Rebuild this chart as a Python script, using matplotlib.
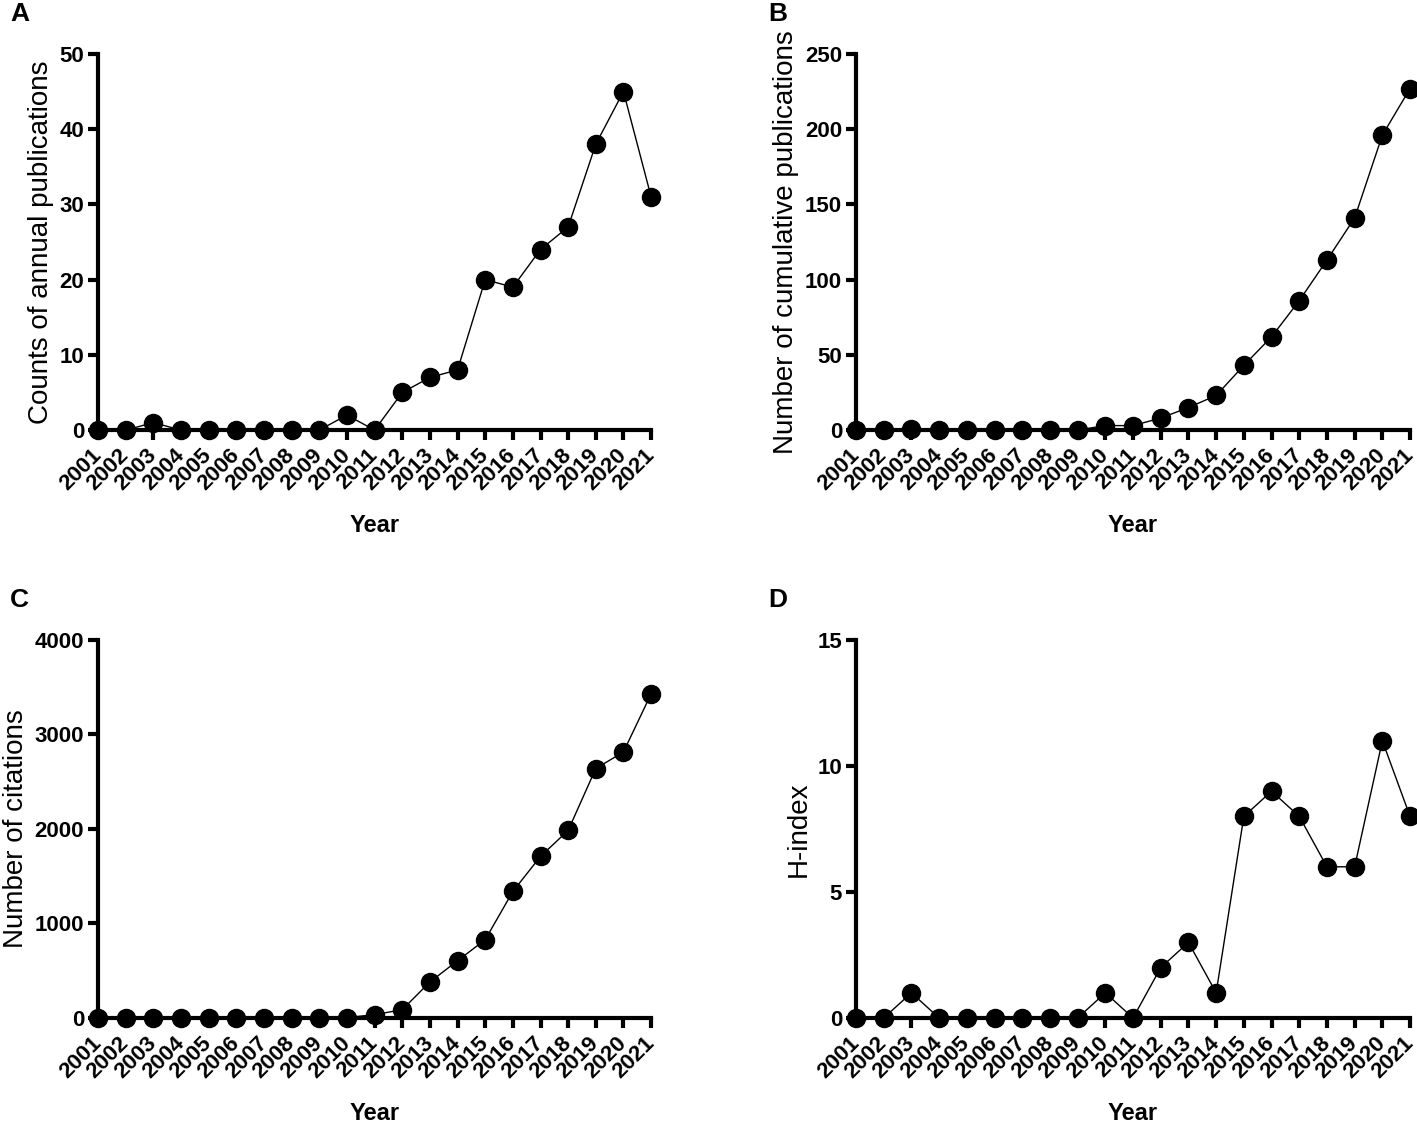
import matplotlib
matplotlib.use("Agg")
import matplotlib.pyplot as plt

plt.rcParams['font.family'] = ['Liberation Sans', 'DejaVu Sans']

years = list(range(2001, 2022))
annual_pubs = [0, 0, 1, 0, 0, 0, 0, 0, 0, 2, 0, 5, 7, 8, 20, 19, 24, 27, 38, 45, 31]
cumulative_pubs = [0, 0, 1, 0, 0, 0, 0, 0, 0, 3, 3, 8, 15, 23, 43, 62, 86, 113, 141, 196, 227]
citations = [0, 0, 0, 0, 0, 0, 0, 0, 0, 5, 35, 88, 381, 606, 828, 1339, 1710, 1985, 2640, 2815, 3430]
h_index = [0, 0, 1, 0, 0, 0, 0, 0, 0, 1, 0, 2, 3, 1, 8, 9, 8, 6, 6, 11, 8]

panels = [
    ('A', annual_pubs, 'Counts of annual publications', 50, 10, [0.0692, 0.617, 0.3903, 0.335]),
    ('B', cumulative_pubs, 'Number of cumulative publications', 250, 50, [0.6041, 0.617, 0.391, 0.335]),
    ('C', citations, 'Number of citations', 4000, 1000, [0.0692, 0.0935, 0.3903, 0.3366]),
    ('D', h_index, 'H-index', 15, 5, [0.6041, 0.0935, 0.391, 0.3366]),
]

fig = plt.figure(figsize=(14.17, 11.23), dpi=100)

for letter, vals, ylabel, ymax, ystep, pos in panels:
    ax = fig.add_axes(pos)
    ax.plot(years, vals, color='black', linewidth=1.0, marker='o', markersize=13,
            markerfacecolor='black', markeredgecolor='black', clip_on=False, zorder=5)
    ax.set_xlim(2001, 2021)
    ax.set_ylim(0, ymax)
    ax.set_yticks(range(0, ymax + 1, ystep))
    ax.set_xticks(years)
    ax.set_xticklabels([str(y) for y in years], rotation=45, ha='right', va='center',
                       rotation_mode='anchor', fontweight='bold', fontsize=16)
    for lab in ax.get_yticklabels():
        lab.set_fontweight('bold')
        lab.set_fontsize(16)
    ax.spines['top'].set_visible(False)
    ax.spines['right'].set_visible(False)
    ax.spines['left'].set_linewidth(3)
    ax.spines['bottom'].set_linewidth(3)
    ax.tick_params(axis='both', width=3, length=7, direction='out', pad=3)
    ax.tick_params(axis='x', pad=9)
    ax.set_xlabel('Year', fontsize=17, fontweight='bold', labelpad=14)
    ax.set_ylabel(ylabel, fontsize=20, labelpad=4)
    fig.text(pos[0] - 0.062, pos[1] + pos[3] + 0.025, letter, fontsize=19,
             fontweight='bold', va='bottom', ha='left')

fig.savefig('out.png', dpi=100)
